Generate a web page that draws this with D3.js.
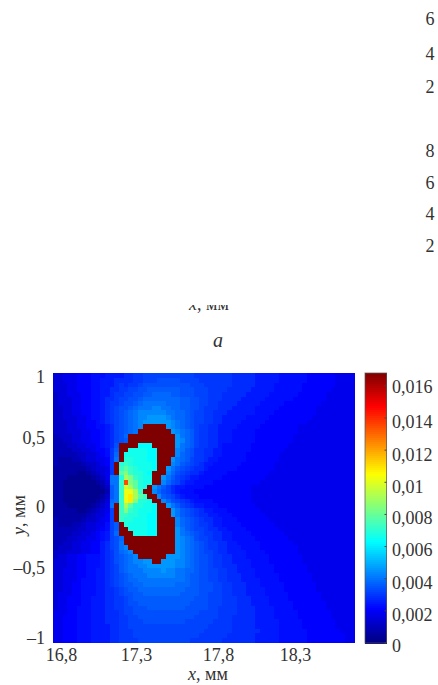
<!DOCTYPE html>
<html lang="en">
  <head>
    <meta charset="UTF-8" />
    <title>Field map</title>
    <script src="https://d3js.org/d3.v7.min.js"></script>
    <style>
      html,
      body {
        margin: 0;
        padding: 0;
        background-color: white;
        overflow: hidden;
      }
      svg {
        display: block;
      }
      text {
        font-family: "Liberation Serif", serif;
        font-size: 18px;
        fill: #333;
      }
      .domain {
        display: none;
      }
    </style>
  </head>
  <body>
    <svg id="chart" width="438" height="685"></svg>
    <script>
      // Tick values and their labels, as printed on the figure
      const xTicks = [16.8, 17.3, 17.8, 18.3];
      const xTickLabels = ["16,8", "17,3", "17,8", "18,3"];
      const yTicks = [-1, -0.5, 0, 0.5, 1];
      const yTickLabels = ["–1", "–0,5", "0", "0,5", "1"];
      const barTicks = [0, 0.002, 0.004, 0.006, 0.008, 0.01, 0.012, 0.014, 0.016];
      const barTickLabels = ["0", "0,002", "0,004", "0,006", "0,008", "0,01", "0,012", "0,014", "0,016"];
      const strayDigits = ["6", "4", "2", "8", "6", "4", "2"];
      const barMax = 0.0168;

      // One character per cell in the rows below
      const levelChars = "0123456789abcdefghijklmnopqrstuv#";
      const levelValues = [
        0.0003, 0.0006, 0.0009, 0.0012, 0.0015, 0.0018, 0.0021, 0.0023, 0.0025, 0.0028, 0.003,
        0.0032, 0.0034, 0.0036, 0.0038, 0.004, 0.0043, 0.0046, 0.0057, 0.006, 0.0063, 0.0066,
        0.0069, 0.0072, 0.0078, 0.0084, 0.009, 0.0096, 0.0102, 0.0108, 0.012, 0.0135, 0.0168,
      ];
      const fieldRows = [
        "4455566677 7888899aab bbbbbbbbbb aaaaaaaa99 9998888877 7777666666 5555",
        "4455566677 8889999aab bbcccccbbb baaaaaaa99 9998888877 7777666666 5555",
        "4445566677 8889a9aabc cccccccccb bbaaaaaa99 9998888777 7776666666 5555",
        "4445566677 8899aabbcc dddddddccc bbbaaaa999 9988888777 7776666665 5555",
        "3445556677 889aabbccd deeeeddccc bbbaaa9999 9888887777 7766666655 5555",
        "3444556677 899abbccde eeeeeeeddc cbbaaa9999 8888877777 7666666655 5555",
        "3444556677 89aabccdef ffffeeeddc cbbaa99998 8888777776 6666666555 5555",
        "3344556677 89abccdeff fggffeeddc cbaaa99988 8887777766 6666665555 5555",
        "3344556677 89abcdefgg ggggffeedc bbaa999888 8887777666 6666665555 5555",
        "3344455677 89abcdefgg hhhhgfeedc bbaa998888 8777776666 6666655555 5555",
        "3334455667 89abcdefgh hhhhhgfedc bbaa998888 7777766666 6666555555 5555",
        "3334455667 789bcdefg# ####hgfedc baa9988887 7777666666 6655555555 5555",
        "3334445566 789bcdef## #####hgfed baa9988877 7776666666 6655555555 5555",
        "2333445566 789bce#### ######hfed baa9988877 7776666666 6555555555 5555",
        "2233445566 789bcd#### ######hged baa9988877 7776666666 6555555555 5555",
        "2223344556 789c####kk k#####hfed baa9987777 7766666666 5555555555 5555",
        "2222334456 67ad##llll kk####gfdc aa99887777 7766666665 5555555555 5555",
        "2222233445 67ae#lllll kk####gedc aa99887777 7666666655 5555555555 5555",
        "2111223445 56af#mmlll kk###hfedb aa98877777 7666666655 5555555555 5555",
        "2111112334 56a#mnmlll lk###gfdcb a988777777 6666666555 5555555555 5555",
        "1111111234 45a#nonmll lk##hfdcba 9987777776 6666666555 5555555555 5555",
        "1111100123 45a#opnmml k###gecba9 9877777666 6666665555 5555555555 5555",
        "1110000012 35ffmqpnml l##hfdba98 8777776666 6666655555 5555555555 5555",
        "1100000001 24ffnvpoml l##gecb988 7777666666 6666555555 5555555555 5555",
        "1100000000 13dfnrqoml #hfdb98877 7766666666 6655555555 5555555555 5555",
        "1100000000 02dfnssqn# #gecb98777 6666666666 6655555555 5555555555 5555",
        "1100000000 13dfnstqon ##gdcb9877 7666666666 6655555555 5555555555 5555",
        "1100000001 24efnstpmm l##gecba98 7777666666 6655555555 5555555555 5555",
        "1110000012 35f#nqomml lk##hfdba9 8877766666 6665555555 5555555555 5555",
        "1111100123 45b#npnmll lk###hfdcb a988777666 6666555555 5555555555 5555",
        "1111111234 46b#nnmmll kk###hfdcb a998877766 6666655555 5555555555 5555",
        "2111112334 56b#nmmlll kk####gedc ba99887776 6666665555 5555555555 5555",
        "2111223445 57bd#mllll kk####gedc baa9887777 6666666555 5555555555 5555",
        "2222233445 67bd##llll kk####hfdc bba9988777 7666666655 5555555555 5555",
        "2222334456 78be###lll kk####hfed cbaa998877 7766666665 5555555555 5555",
        "2223344556 78bce##### ######hgfe cbba998877 7776666666 5555555555 5555",
        "2233445566 89bcf##### ######hgfe dcbaa99887 7777666666 6555555555 5555",
        "2333445566 89bcfg#### ######hgfe dcbaa99888 7777666666 6655555555 5555",
        "3334445566 89acefg### ######hgfe dcbba99888 8777766666 6655555555 5555",
        "3445566777 89acdefg## ####hhhgfe dccbaa9988 8777776666 6665555555 5555",
        "4445566777 89acdefggh h##hhhggfe dccbaa9988 8877776666 6665555555 5555",
        "4445566777 89abdeffgg hhhhhhggfe dccbaa9998 8877777666 6666555555 5555",
        "4455566778 89abdefffg ggghggffee dccbbaa998 8887777666 6666555555 5555",
        "4455566778 89abcdefff ggggggffed dccbbaa999 8887777766 6666655555 5555",
        "4455567778 89abcdeeff ffffffffed dccbbaa999 8888777766 6666655555 5555",
        "4455667778 89abcddeef ffffffeeed dcccbbaa99 9888777776 6666665555 5555",
        "4455667778 899abcddee eeeeeeeedd dcccbbaa99 9888877776 6666665555 5555",
        "4555667778 899abccdde eeeeeeeddd dccbbbaa99 9888877777 6666666555 5555",
        "4556667788 899aabcddd dddddddddd cccbbbaaa9 9988887777 6666666555 5555",
        "4556667788 899aabccdd dddddddddc cccbbbaaa9 9988887777 7666666655 5555",
        "4556677788 899aabbccc ddddddddcc cccbbaaaa9 9998888777 7666666655 5555",
        "5556677788 8999abbccc cccccccccc cbbbbaaaa9 9998888777 7766666665 5555",
        "5566677788 8999aabbcc cccccccccc bbbbbaaa99 9998888777 7766666665 5555",
        "5566677788 8999aabbbc ccccccccbb bbbbaaaa99 9998888877 7776666666 5555",
        "5566677788 8899aabbbb bbbbbbbbbb bbbaaaaa99 9998888877 7776666666 5555",
        "5566677788 8899aaabbb bbbbbbbbbb bbaaaaaa99 9999888877 7777666666 6555",
        "5566677788 8899aaabbb bbbbbbbbbb baaaaaa999 9998888877 7777666666 6655",
        "5566677788 8899aaaabb bbbbbbbbba aaaaaa9999 9998888877 7777666666 6655",
      ];

      const svg = d3.select("#chart");

      const plot = { left: 53.3, right: 354, top: 373.3, bottom: 642.7 };
      const bar = { left: 365, right: 386.5, top: 373, bottom: 643 };

      // Jet colour map over the colour bar's range
      const jet = d3
        .scaleLinear()
        .domain([0, 0.125, 0.375, 0.625, 0.875, 1].map((d) => d * barMax))
        .range(["#00007f", "#0000ff", "#00ffff", "#ffff00", "#ff0000", "#7f0000"])
        .clamp(true);

      // Split rows into cells
      const rows = fieldRows.map((r) => r.replace(/ /g, "").split(""));
      const cells = [];
      rows.forEach((r, i) => {
        r.forEach((ch, j) => {
          cells.push({ i, j, value: levelValues[levelChars.indexOf(ch)] });
        });
      });

      const colScale = d3.scaleBand().domain(d3.range(rows[0].length)).range([plot.left, plot.right]);
      const rowScale = d3.scaleBand().domain(d3.range(rows.length)).range([plot.top, plot.bottom]);

      // Heat map
      svg
        .append("g")
        .attr("shape-rendering", "crispEdges")
        .selectAll("rect")
        .data(cells)
        .enter()
        .append("rect")
        .attr("x", (d) => colScale(d.j))
        .attr("y", (d) => rowScale(d.i))
        .attr("width", colScale.bandwidth() + 0.5)
        .attr("height", rowScale.bandwidth() + 0.5)
        .attr("fill", (d) => jet(d.value));

      // The printed tick labels are not evenly spaced, so these scales are piecewise
      const x = d3.scaleLinear().domain(xTicks).range([61, 136, 218, 295]);
      const y = d3.scaleLinear().domain(yTicks).range([638, 568, 507, 438, 377]);
      const barLabelY = d3
        .scaleLinear()
        .domain(barTicks)
        .range([646, 615, 583, 550, 518, 487, 455, 422, 387]);
      const barY = d3.scaleLinear().domain([0, barMax]).range([bar.bottom, bar.top]);

      const xAxis = svg
        .append("g")
        .attr("transform", "translate(0,648)")
        .call(
          d3.axisBottom(x).tickValues(xTicks).tickSize(0).tickPadding(0).tickFormat((d, i) => xTickLabels[i])
        );
      const yAxis = svg
        .append("g")
        .attr("transform", "translate(45,0)")
        .call(
          d3.axisLeft(y).tickValues(yTicks).tickSize(0).tickPadding(0).tickFormat((d, i) => yTickLabels[i])
        );
      xAxis.selectAll("text").style("font-size", "18px").style("font-family", "Liberation Serif");
      yAxis.selectAll("text").style("font-size", "18px").style("font-family", "Liberation Serif");

      // Colour bar
      const barSteps = d3.range(0, barMax, barMax / 135);
      svg
        .append("g")
        .attr("shape-rendering", "crispEdges")
        .selectAll("rect")
        .data(barSteps)
        .enter()
        .append("rect")
        .attr("x", bar.left)
        .attr("y", (d) => barY(d + barMax / 135))
        .attr("width", bar.right - bar.left)
        .attr("height", (bar.bottom - bar.top) / 135 + 0.5)
        .attr("fill", (d) => jet(d));

      svg
        .append("rect")
        .attr("x", bar.left)
        .attr("y", bar.top)
        .attr("width", bar.right - bar.left)
        .attr("height", bar.bottom - bar.top)
        .attr("fill", "none")
        .attr("stroke", "#555")
        .attr("stroke-opacity", 0.7);

      svg
        .append("g")
        .selectAll("line")
        .data(barTicks)
        .enter()
        .append("line")
        .attr("x1", bar.right - 2)
        .attr("x2", bar.right)
        .attr("y1", (d) => barY(d))
        .attr("y2", (d) => barY(d))
        .attr("stroke", "#444");

      svg
        .append("g")
        .selectAll("text")
        .data(barTicks)
        .enter()
        .append("text")
        .attr("x", 392)
        .attr("y", (d) => barLabelY(d))
        .attr("dy", "0.32em")
        .text((d, i) => barTickLabels[i]);

      // Axis titles
      const xTitle = svg.append("text").attr("x", 208).attr("y", 680).attr("text-anchor", "middle");
      xTitle.append("tspan").attr("font-style", "italic").text("x");
      xTitle.append("tspan").text(", мм");

      const yTitle = svg
        .append("text")
        .attr("transform", "translate(25,515) rotate(-90)")
        .attr("text-anchor", "middle");
      yTitle.append("tspan").attr("font-style", "italic").text("y");
      yTitle.append("tspan").text(", мм");

      // Leftovers of the panel above, which is cropped out in the source
      svg
        .append("g")
        .selectAll("text")
        .data(strayDigits)
        .enter()
        .append("text")
        .attr("x", 430)
        .attr("y", (d, i) => [19, 54, 87, 151, 183, 214, 246][i])
        .attr("dy", "0.32em")
        .attr("text-anchor", "middle")
        .text((d) => d);

      svg
        .append("clipPath")
        .attr("id", "cut-title")
        .append("rect")
        .attr("x", 180)
        .attr("y", 305)
        .attr("width", 60)
        .attr("height", 12);
      const cutTitle = svg
        .append("text")
        .attr("x", 209)
        .attr("y", 310)
        .attr("text-anchor", "middle")
        .attr("clip-path", "url(#cut-title)");
      cutTitle.append("tspan").attr("font-style", "italic").text("x");
      cutTitle.append("tspan").text(", мм");

      svg
        .append("text")
        .attr("x", 218)
        .attr("y", 347)
        .attr("text-anchor", "middle")
        .attr("font-style", "italic")
        .style("font-size", "20px")
        .text("a");
    </script>
  </body>
</html>
